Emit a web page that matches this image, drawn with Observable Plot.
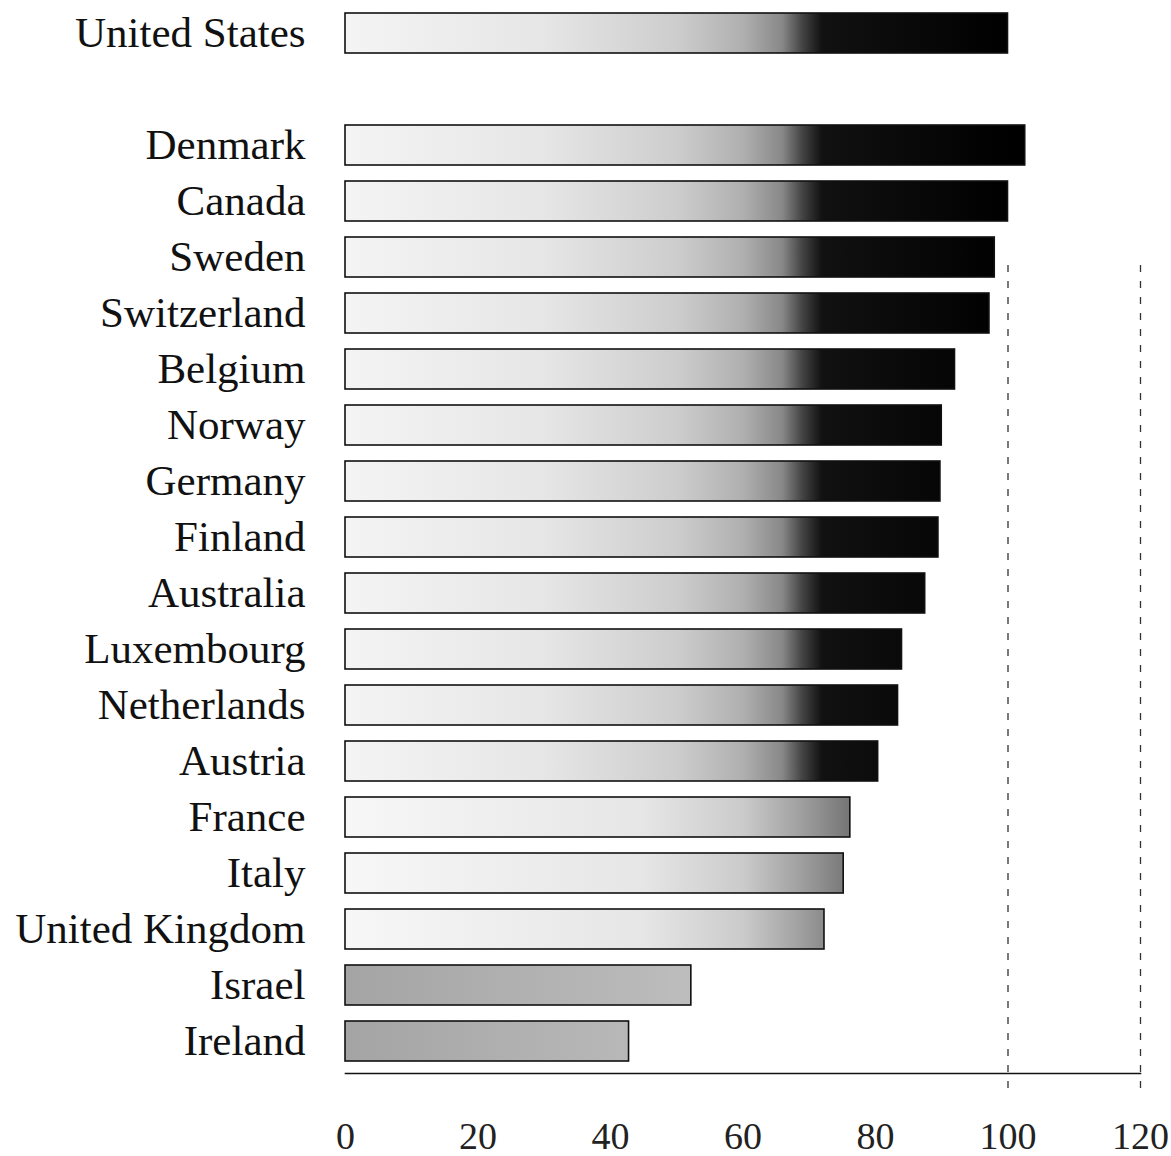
<!DOCTYPE html>
<html>
<head>
<meta charset="utf-8">
<script src="https://cdn.jsdelivr.net/npm/d3@7"></script>
<script src="https://cdn.jsdelivr.net/npm/@observablehq/plot@0.6"></script>
<style>
  html, body { margin: 0; padding: 0; background: #fff; }
  #chart svg { display: block; }
</style>
</head>
<body>
<div id="chart"></div>
<script>
// Data (index relative to United States = 100)
const countries = [
  "United States", "Denmark", "Canada", "Sweden", "Switzerland", "Belgium",
  "Norway", "Germany", "Finland", "Australia", "Luxembourg", "Netherlands",
  "Austria", "France", "Italy", "United Kingdom", "Israel", "Ireland"
];
const values = [
  100, 102.6, 100, 98, 97.2, 92, 90, 89.8, 89.5, 87.5, 84, 83.4,
  80.4, 76.2, 75.2, 72.3, 52.2, 42.8
];
const xTicks = [0, 20, 40, 60, 80, 100, 120];
const refLines = [100, 120];

const GAP = "\u200b"; // blank row separating the United States
const yDomain = [countries[0], GAP, ...countries.slice(1)];
const data = countries.map((c, i) => ({country: c, value: values[i]}));

const fillFor = d => d.value >= 80 ? "url(#gDark)" : d.value >= 60 ? "url(#gMid)" : "url(#gFlat)";

const plot = Plot.plot({
  width: 1171,
  height: 1156,
  marginLeft: 345,
  marginRight: 31,
  marginTop: 0,
  marginBottom: 83,
  style: {fontFamily: "'Liberation Serif', 'DejaVu Serif', serif", background: "#fff", color: "#111"},
  x: {domain: [0, 120]},
  y: {domain: yDomain, paddingInner: 0.29, paddingOuter: 0.21},
  marks: [
    Plot.ruleX(refLines, {stroke: "#333", strokeWidth: 1.3, strokeDasharray: "7,9", insetTop: 265, insetBottom: -16}),
    Plot.barX(data, {x: "value", y: "country", fill: fillFor, stroke: "#111", strokeWidth: 1.6}),
    Plot.frame({anchor: "bottom", stroke: "#111", strokeWidth: 1.6}),
    Plot.axisX({ticks: xTicks, tickSize: 0, tickPadding: 49, fontSize: 38, label: null, fill: "#222"}),
    Plot.axisY({ticks: countries, tickSize: 0, tickPadding: 40, fontSize: 43, label: null, fill: "#111"})
  ]
});

// Gradient definitions aligned to the x scale
const xs = plot.scale("x");
const x0 = xs.apply(0), x100 = xs.apply(100);
const svg = d3.select(plot);
const defs = svg.insert("defs", ":first-child");
function grad(id, stops) {
  const g = defs.append("linearGradient")
    .attr("id", id)
    .attr("gradientUnits", "userSpaceOnUse")
    .attr("x1", x0).attr("x2", x100).attr("y1", 0).attr("y2", 0);
  for (const [o, c] of stops) g.append("stop").attr("offset", o).attr("stop-color", c);
}
grad("gDark", [[0, "#f4f4f4"], [0.3, "#e6e6e6"], [0.5, "#cdcdcd"], [0.6, "#b0b0b0"], [0.66, "#888"], [0.69, "#444"], [0.72, "#111"], [1, "#000"]]);
grad("gMid", [[0, "#f7f7f7"], [0.45, "#e6e6e6"], [0.6, "#cbcbcb"], [0.68, "#a4a4a4"], [0.76, "#767676"], [1, "#666"]]);
grad("gFlat", [[0, "#a4a4a4"], [0.25, "#b0b0b0"], [0.45, "#b9b9b9"], [0.55, "#bfbfbf"], [1, "#c6c6c6"]]);

document.getElementById("chart").appendChild(plot);
</script>
</body>
</html>
